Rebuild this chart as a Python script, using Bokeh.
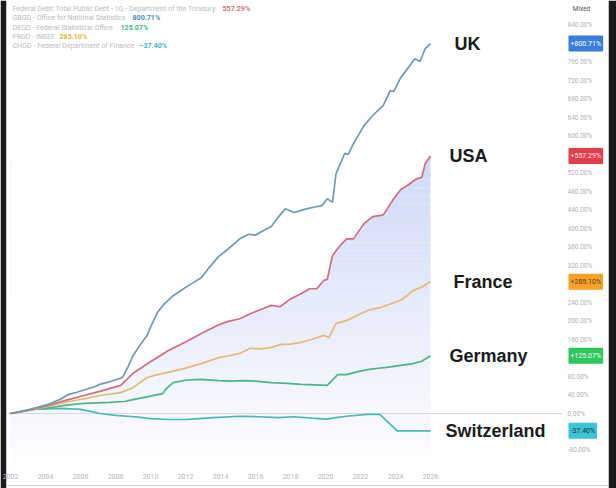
from bokeh.plotting import figure
from bokeh.models import Range1d, FixedTicker, PrintfTickFormatter, Label, LinearAxis
from bokeh.core.properties import value
from bokeh.embed import file_html
from bokeh.resources import INLINE
import numpy as np

# ---------------- data (% change since 2002) ----------------
uk_years = [2002.0, 2002.5, 2003.0, 2003.5, 2004.0, 2004.3, 2004.8, 2005.3, 2005.8, 2006.3,
            2006.8, 2007.1, 2007.6, 2008.1, 2008.4, 2008.7, 2009.0, 2009.4, 2009.8, 2010.1,
            2010.4, 2010.8, 2011.3, 2011.8, 2012.3, 2012.9, 2013.4, 2013.9, 2014.4, 2015.1,
            2015.6, 2016.0, 2016.3, 2016.9, 2017.3, 2017.7, 2018.2, 2018.9, 2019.4, 2019.8,
            2020.1, 2020.4, 2020.6, 2021.1, 2021.3, 2021.6, 2022.2, 2022.7, 2023.3, 2023.7,
            2023.9, 2024.3, 2024.7, 2025.1, 2025.4, 2025.7, 2026.0]
uk_vals = [0, 3, 8, 13, 18, 22, 30, 41, 46, 52,
           58, 63, 68, 74, 78, 100, 125, 148, 169, 195,
           219, 238, 255, 268, 280, 294, 318, 340, 355, 378,
           388, 386, 393, 405, 425, 443, 435, 443, 447, 450,
           465, 457, 519, 563, 561, 584, 623, 645, 667, 699,
           697, 727, 747, 768, 762, 790, 800.71]

usa_years = [2002.0, 2003.0, 2004.3, 2005.2, 2006.2, 2007.2, 2008.3, 2009.0, 2010.0, 2011.0,
             2012.0, 2012.9, 2013.9, 2014.5, 2015.1, 2015.7, 2016.3, 2016.9, 2017.4, 2018.0,
             2018.6, 2019.1, 2019.5, 2019.9, 2020.1, 2020.4, 2020.8, 2021.2, 2021.6, 2022.2,
             2022.7, 2023.3, 2023.9, 2024.3, 2024.7, 2025.2, 2025.5, 2025.7, 2026.0]
usa_vals = [0, 7, 19, 29, 39, 49, 61, 87, 112, 136,
            155, 173, 192, 200, 205, 216, 225, 234, 231, 248,
            259, 270, 270, 288, 290, 342, 362, 378, 378, 411,
            426, 430, 465, 485, 494, 508, 511, 541, 557.29]

fr_years = [2002.0, 2003.0, 2004.3, 2005.5, 2006.5, 2007.1, 2008.3, 2009.0, 2009.8, 2010.4,
            2011.0, 2011.9, 2012.9, 2013.9, 2014.5, 2015.1, 2015.7, 2016.3, 2016.9, 2017.4,
            2018.0, 2018.6, 2019.1, 2019.5, 2019.9, 2020.2, 2020.6, 2021.2, 2021.8, 2022.4,
            2023.1, 2023.7, 2024.3, 2024.7, 2025.0, 2025.5, 2026.0]
fr_vals = [0, 6, 17, 27, 34, 39, 45, 56, 78, 84,
           89, 97, 108, 121, 125, 130, 141, 140, 143, 149,
           150, 154, 159, 164, 169, 164, 195, 201, 212, 223,
           229, 237, 245, 256, 266, 274, 285.10]

de_years = [2002.0, 2003.0, 2004.3, 2005.2, 2006.2, 2007.7, 2008.5, 2009.0, 2009.8, 2010.4,
            2010.7, 2010.9, 2011.3, 2012.0, 2012.8, 2013.9, 2014.5, 2015.3, 2016.0, 2016.9,
            2017.8, 2018.6, 2019.4, 2020.1, 2020.7, 2021.2, 2021.8, 2022.4, 2023.0, 2023.5,
            2024.3, 2025.0, 2025.5, 2026.0]
de_vals = [0, 7, 13, 18, 22, 24, 26, 30, 36, 41,
           43, 54, 67, 72, 74, 71, 70, 71, 70, 67,
           65, 63, 62, 61, 84, 84, 90, 95, 98, 100,
           104, 108, 113, 125.07]

ch_years = [2002.0, 2002.7, 2003.3, 2004.9, 2006.0, 2006.5, 2007.1, 2008.0, 2008.7, 2009.3,
            2010.0, 2011.0, 2012.0, 2012.8, 2013.6, 2015.1, 2016.2, 2017.3, 2018.2, 2019.2,
            2020.1, 2020.6, 2021.2, 2022.4, 2023.1, 2024.1, 2026.0]
ch_vals = [0, 5, 9, 11, 9, 5, 0, -4, -6, -8,
           -11, -13, -13, -11, -9, -6, -7, -9, -7, -10,
           -12, -9, -6, -2, -2, -37.4, -37.40]

country_names = ["UK", "USA", "France", "Germany", "Switzerland"]
country_tags = ["+800.71%", "+557.29%", "+285.10%", "+125.07%", "-37.40%"]

legend_names = ["Federal Debt: Total Public Debt - 1Q - Department of the Treasury",
                "GBGD - Office for National Statistics",
                "DEGD - Federal Statistical Office",
                "FRGD - INSEE",
                "CHGD - Federal Department of Finance"]
legend_values = ["557.29%", "800.71%", "125.07%", "285.10%", "\u221237.40%"]

y_ticks = list(range(-80, 841, 40))
x_ticks = list(range(2002, 2027, 2))

# ---------------- layout helpers (page pixel -> data) ----------------
W, H = 616, 488
LEFT = 6          # dark strip on the left
RIGHT = 8         # dark strip on the right
FRAME_R = W - RIGHT

def px2x(px):
    return 2002 + (px - 10) / 17.5

def py2y(py):
    return (413 - py) / 0.462

p = figure(width=W, height=H, output_backend="svg", toolbar_location=None,
           x_range=Range1d(px2x(LEFT), px2x(FRAME_R)), y_range=Range1d(py2y(H), py2y(0)),
           min_border_left=LEFT, min_border_top=0, min_border_right=RIGHT, min_border_bottom=0,
           background_fill_color="white", border_fill_color="#1b1b1b")
p.outline_line_color = None
p.grid.visible = False
p.xaxis.visible = False
p.yaxis.visible = False

FONT = "Roboto"

# bottom axis (labels pulled up into the white area)
xa = LinearAxis(ticker=FixedTicker(ticks=x_ticks))
xa.axis_line_color = None
xa.major_tick_line_color = None
xa.minor_tick_line_color = None
xa.major_tick_out = 0
xa.major_tick_in = 0
xa.major_label_standoff = -15
xa.major_label_text_font = FONT
xa.major_label_text_font_size = "7px"
xa.major_label_text_color = "#b4b7bf"
p.add_layout(xa, "below")

# right axis (labels pulled back inside the price-scale strip)
ya = LinearAxis(ticker=FixedTicker(ticks=y_ticks), formatter=PrintfTickFormatter(format="%.2f%%"))
ya.axis_line_color = None
ya.major_tick_line_color = None
ya.minor_tick_line_color = None
ya.major_tick_out = 0
ya.major_tick_in = 0
ya.major_label_standoff = -41
ya.major_label_text_font = FONT
ya.major_label_text_font_size = "6.5px"
ya.major_label_text_color = "#aeb1b9"
ya.major_label_overrides = {800: "", 560: "", 280: "", 120: "", -40: ""}
p.add_layout(ya, "right")

# gradient area under USA: colour bands, then white above the line
ux = np.array(usa_years, dtype=float)
uy = np.array(usa_vals, dtype=float)
lo, hi = py2y(470), max(usa_vals)
nb = 40
levels = np.linspace(lo, hi, nb + 1)
top_c = np.array([0xd0, 0xda, 0xf8])
bot_c = np.array([0xff, 0xff, 0xff])
cols = []
for k in range(nb):
    t = (k + 0.5) / nb
    c = (bot_c + (top_c - bot_c) * t).astype(int)
    cols.append("#%02x%02x%02x" % tuple(c))
p.quad(left=ux[0], right=ux[-1], bottom=levels[:-1], top=levels[1:], fill_color=cols, line_color=None)
p.varea(x=ux, y1=uy, y2=py2y(-2), fill_color="white")

# zero line (ends at the price scale)
p.line(x=[px2x(LEFT), px2x(562)], y=[0, 0], line_color="#d8dae0", line_width=1)
# thin rule under the time scale
p.line(x=[px2x(LEFT), px2x(FRAME_R)], y=[py2y(485), py2y(485)], line_color="#d0d2d8", line_width=1)

# series
series = [
    (ch_years, ch_vals, "#48bab6"),
    (de_years, de_vals, "#4fb583"),
    (fr_years, fr_vals, "#e7b877"),
    (usa_years, usa_vals, "#cd6f7e"),
    (uk_years, uk_vals, "#6e9bb3"),
]
for xs, ys, c in series:
    p.line(xs, ys, line_color=c, line_width=1.7)

# country labels at the last values
last_vals = [uk_vals[-1], usa_vals[-1], fr_vals[-1], de_vals[-1], ch_vals[-1]]
label_px = [454, 449, 453, 449, 445]
p.text(x=[px2x(v) for v in label_px], y=last_vals, text=country_names,
       text_font=value("Liberation Sans"), text_font_style="bold", text_font_size="18px",
       text_color="#1b1b1b", text_baseline="middle", text_align="left")

# price tags on the right scale
tag_bg = ["#3b7ddd", "#e23d4b", "#f6a12b", "#2ec55e", "#40c3d6"]
tag_fg = ["#ffffff", "#ffe9ec", "#5a3a12", "#ffffff", "#0d3a44"]
for v, t, bg, fg in zip(last_vals, country_tags, tag_bg, tag_fg):
    p.add_layout(Label(x=px2x(568), y=v, text=t, text_font=FONT, text_font_size="7px",
                       text_color=fg, text_baseline="middle", text_align="left",
                       background_fill_color=bg, background_fill_alpha=1.0,
                       padding=(2, 4), border_radius=1))

# "Mixed" header
p.add_layout(Label(x=px2x(581), y=py2y(8), text="Mixed", text_font=FONT, text_font_size="6.5px",
                   text_color="#555a63", text_align="center", text_baseline="middle"))

# legend at top left
leg_rows_py = [8, 17, 26.5, 35.5, 44.5]
leg_val_px = [222, 132, 120, 59, 139]
leg_val_colors = ["#d66f7e", "#4b8fb6", "#3fb680", "#e3b73c", "#4ab7c6"]
for nm, vl, py, vx, vc in zip(legend_names, legend_values, leg_rows_py, leg_val_px, leg_val_colors):
    p.add_layout(Label(x=px2x(12), y=py2y(py), text=nm, text_font=FONT, text_font_size="7.1px",
                       text_color="#b9bcc3", text_baseline="middle", text_align="left"))
    p.add_layout(Label(x=px2x(vx), y=py2y(py), text=vl, text_font=FONT, text_font_size="7.1px",
                       text_color=vc, text_font_style="bold", text_baseline="middle", text_align="left"))

open("out.html", "w").write(file_html(p, INLINE))
